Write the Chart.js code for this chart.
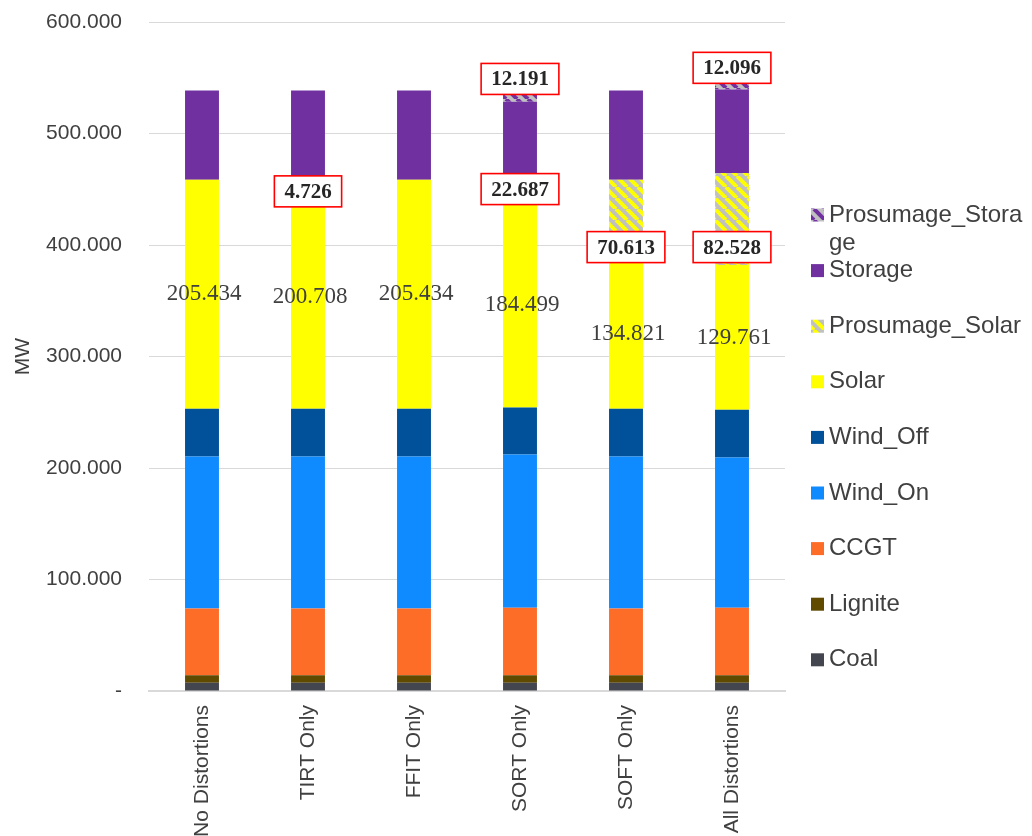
<!DOCTYPE html>
<html>
<head>
<meta charset="utf-8">
<script src="https://cdn.jsdelivr.net/npm/chart.js@4.4.1/dist/chart.umd.min.js"></script>
<style>
  html, body { margin: 0; padding: 0; background: #fff; }
  canvas { display: block; }
</style>
</head>
<body>
<canvas id="mixChart" width="1032" height="836"></canvas>
<script>
// categories and series (MW)
const categories = ['No Distortions', 'TIRT Only', 'FFIT Only', 'SORT Only', 'SOFT Only', 'All Distortions'];
const coal             = [7.4, 7.4, 7.4, 7.4, 7.4, 7.4];
const lignite          = [6.8, 6.8, 6.8, 6.8, 6.8, 6.8];
const ccgt             = [59.8, 59.8, 59.8, 60.4, 59.8, 60.4];
const windOn           = [136.3, 136.3, 136.3, 137.5, 136.3, 134.8];
const windOff          = [42.8, 42.8, 42.8, 42.2, 42.8, 42.8];
const solar            = [205.434, 200.708, 205.434, 184.499, 134.821, 129.761];
const prosumageSolar   = [0, 4.726, 0, 22.687, 70.613, 82.528];
const storage          = [80.1, 80.1, 80.1, 67.0, 80.1, 74.9];
const prosumageStorage = [0, 0, 0, 12.191, 0, 12.096];
const yTickValues = [0, 100, 200, 300, 400, 500, 600];
const yTickLabels = ['-', '100.000', '200.000', '300.000', '400.000', '500.000', '600.000'];

// where the boxed callouts sit relative to their segment (px)
const prosSolarShift   = [0, 9, 0, 0, 28, 28];
const prosStorageShift = [0, 0, 0, -16, 0, -15];

const SANS = "'Liberation Sans', Arial, sans-serif";
const SERIF = "'Liberation Serif', 'Times New Roman', serif";
const TXT = '#404040';

function stripes(bg, fg){
  const n = 11;
  const c = document.createElement('canvas'); c.width = n; c.height = n;
  const g = c.getContext('2d');
  g.fillStyle = bg; g.fillRect(0, 0, n, n);
  g.strokeStyle = fg; g.lineWidth = 4;
  [-n, 0, n].forEach(o => { g.beginPath(); g.moveTo(o, 0); g.lineTo(o + n, n); g.stroke(); });
  return g.createPattern(c, 'repeat');
}

const datasets = [
  { label: 'Coal', data: coal, backgroundColor: '#44464f' },
  { label: 'Lignite', data: lignite, backgroundColor: '#5f4a00' },
  { label: 'CCGT', data: ccgt, backgroundColor: '#fd6d28' },
  { label: 'Wind_On', data: windOn, backgroundColor: '#0f8bff' },
  { label: 'Wind_Off', data: windOff, backgroundColor: '#00509a' },
  { label: 'Solar', data: solar, backgroundColor: '#ffff00' },
  { label: 'Prosumage_Solar', data: prosumageSolar, backgroundColor: stripes('#c0c0c0', '#ffff00') },
  { label: 'Storage', data: storage, backgroundColor: '#7030a0' },
  { label: 'Prosumage_Storage', data: prosumageStorage, backgroundColor: stripes('#c0c0c0', '#7030a0') }
];

// value labels: plain for Solar, red boxes for the prosumage parts
const labelPlugin = {
  id: 'segLabels',
  afterDatasetsDraw(chart){
    const ctx = chart.ctx;
    ctx.save();
    ctx.textAlign = 'center'; ctx.textBaseline = 'middle';
    chart.getDatasetMeta(5).data.forEach((el, i) => {
      ctx.font = '23px ' + SERIF; ctx.fillStyle = TXT;
      ctx.fillText(solar[i].toFixed(3), el.x + 2, (el.y + el.base) / 2);
    });
    const boxed = (dsIndex, values, shift) => {
      chart.getDatasetMeta(dsIndex).data.forEach((el, i) => {
        if(!values[i]) return;
        const txt = values[i].toFixed(3);
        const cy = (el.y + el.base) / 2 + shift[i];
        ctx.font = 'bold 21px ' + SERIF;
        const w = ctx.measureText(txt).width + 20, h = 31;
        ctx.fillStyle = '#fff';
        ctx.fillRect(el.x - w / 2, cy - h / 2, w, h);
        ctx.strokeStyle = '#ff0000'; ctx.lineWidth = 1.6;
        ctx.strokeRect(el.x - w / 2, cy - h / 2, w, h);
        ctx.fillStyle = '#262626';
        ctx.fillText(txt, el.x, cy + 1);
      });
    };
    boxed(6, prosumageSolar, prosSolarShift);
    boxed(8, prosumageStorage, prosStorageShift);
    ctx.restore();
  }
};

// legend on the right, reversed, with wrapping like the original
const legendPlugin = {
  id: 'sideLegend',
  afterDraw(chart){
    const ctx = chart.ctx;
    const x0 = 811, tx = 829, maxW = 1032 - tx;
    let y = 215;
    ctx.save();
    ctx.font = '24px ' + SANS; ctx.textBaseline = 'middle'; ctx.textAlign = 'left';
    chart.data.datasets.slice().reverse().forEach(ds => {
      ctx.fillStyle = ds.backgroundColor;
      ctx.fillRect(x0, y - 6.5, 13, 13);
      // break the label into lines that fit
      const lines = []; let cur = '';
      for(const ch of ds.label){
        if(ctx.measureText(cur + ch).width > maxW){ lines.push(cur); cur = ch; } else cur += ch;
      }
      lines.push(cur);
      ctx.fillStyle = TXT;
      lines.forEach((ln, k) => ctx.fillText(ln, tx, y + k * 28));
      y += 55.6;
    });
    ctx.restore();
  }
};

new Chart(document.getElementById('mixChart'), {
  type: 'bar',
  data: { labels: categories, datasets },
  options: {
    responsive: false,
    animation: false,
    devicePixelRatio: 1,
    layout: { padding: { top: 22, right: 247, left: 0, bottom: 0 } },
    datasets: { bar: { categoryPercentage: 1, barPercentage: 0.32, borderWidth: 0 } },
    plugins: { legend: { display: false }, tooltip: { enabled: false } },
    scales: {
      x: {
        stacked: true,
        grid: { display: false },
        border: { color: '#d9d9d9', width: 2 },
        ticks: { color: TXT, font: { family: SANS, size: 21 }, minRotation: 90, maxRotation: 90, padding: 6 },
        afterFit(s){ s.height = 145; s.paddingTop = 0; }
      },
      y: {
        stacked: true,
        min: 0, max: 600,
        afterBuildTicks(s){ s.ticks = yTickValues.map(v => ({ value: v })); },
        grid: { color: '#d9d9d9', drawTicks: false },
        border: { display: false },
        ticks: {
          color: TXT, font: { family: SANS, size: 21 }, padding: 27,
          callback: v => yTickLabels[yTickValues.indexOf(v)]
        },
        title: { display: true, text: 'MW', color: TXT, font: { family: SANS, size: 21 }, padding: { top: 11, bottom: 0 } },
        afterFit(s){ s.width = 149; s.paddingTop = 0; s.paddingBottom = 0; }
      }
    }
  },
  plugins: [labelPlugin, legendPlugin]
});
</script>
</body>
</html>
